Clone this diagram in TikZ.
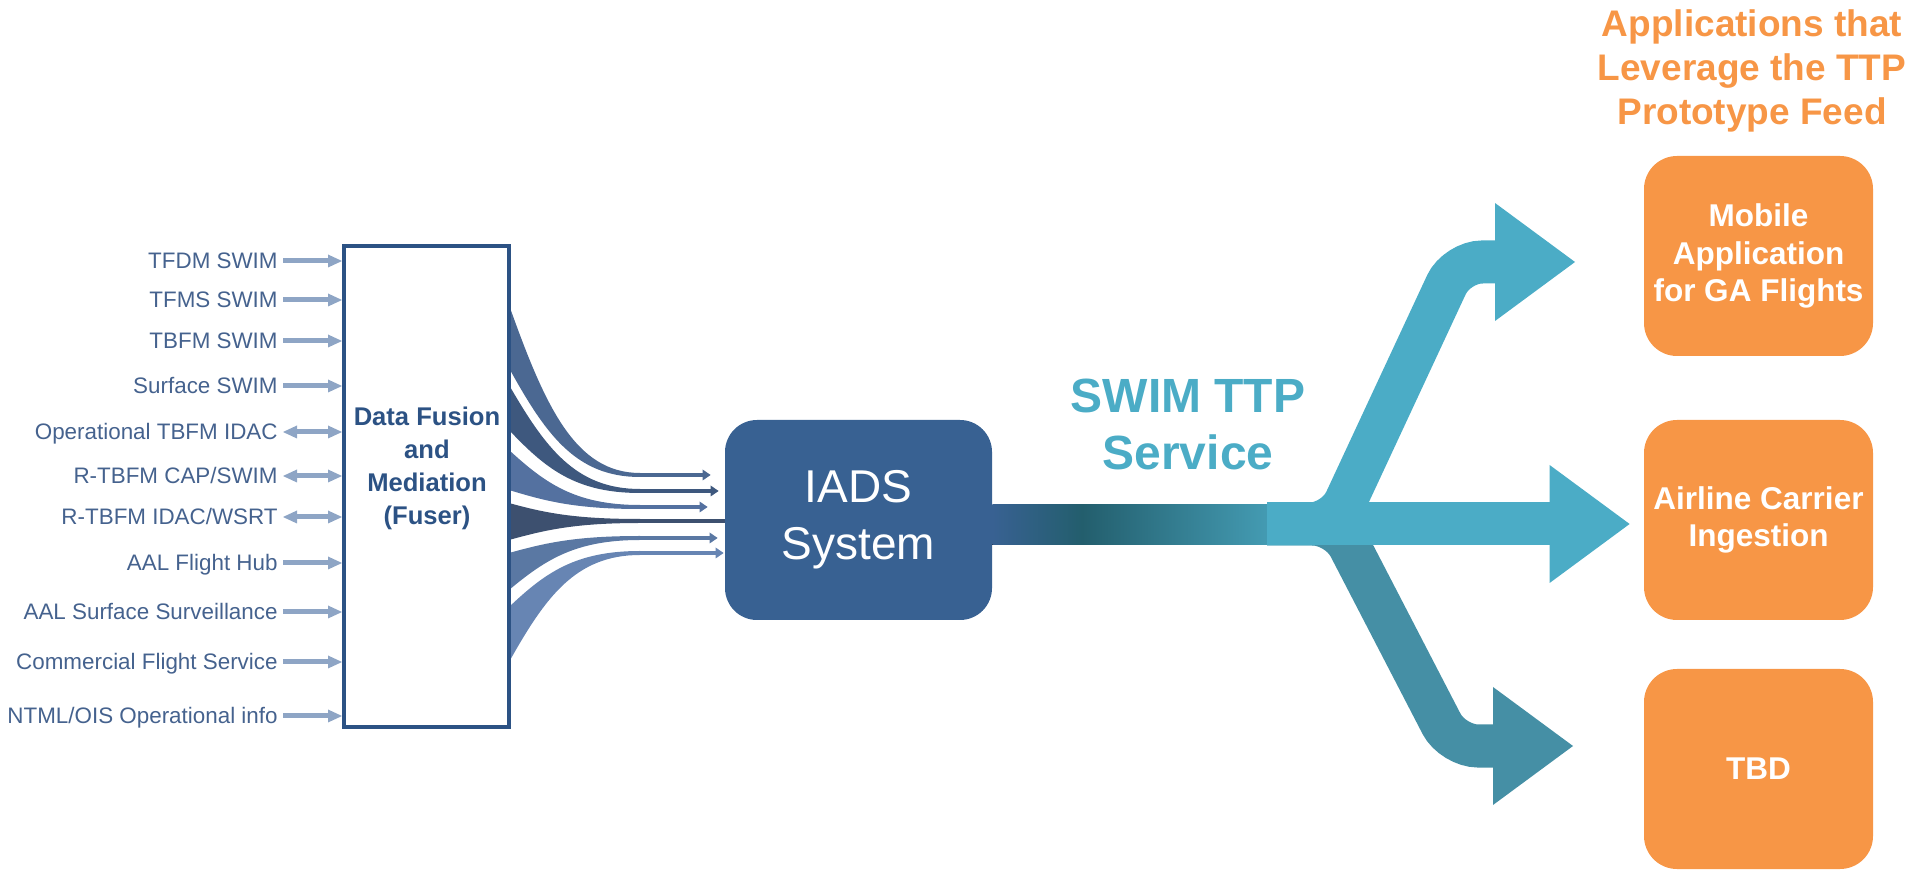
\documentclass[tikz,border=0pt]{standalone}
\usepackage{fontspec}
\setmainfont{Liberation Sans}
\usetikzlibrary{arrows.meta}

\definecolor{labelblue}{HTML}{45628E}
\definecolor{inarrowgray}{HTML}{8EA5C5}
\definecolor{fuserblue}{HTML}{2C5284}
\definecolor{iadsblue}{HTML}{386192}
\definecolor{darkteal}{HTML}{235E6D}
\definecolor{lightteal}{HTML}{4BACC6}
\definecolor{lowteal}{HTML}{458FA5}
\definecolor{apporange}{HTML}{F79646}
\definecolor{streamA}{HTML}{4B6892}
\definecolor{streamB}{HTML}{3E587E}
\definecolor{streamC}{HTML}{5471A0}
\definecolor{streamD}{HTML}{3D506F}
\definecolor{streamE}{HTML}{5A78A3}
\definecolor{streamF}{HTML}{6785B3}

\begin{document}
\begin{tikzpicture}[x=0.5pt, y=-0.5pt,
  >={Triangle[length=7pt,width=6.5pt,line width=0pt]},
  inlabel/.style={anchor=east, inner sep=2.5pt, text=labelblue, text height=8pt, text depth=0pt,
    font=\fontsize{11.2}{13.5}\selectfont},
  inarrow/.style={->, line width=2.5pt, inarrowgray},
  stream/.style={line width=1.6pt, -{Triangle[length=4pt,width=5.5pt,line width=0pt]}},
  fan/.style={line width=21.5pt, rounded corners=12.5pt, -{Triangle[length=40pt,width=59pt,line width=0pt]}},
  appbox/.style={fill=apporange, rounded corners=16.5pt, minimum width=114.5pt, minimum height=100pt,
    inner sep=2pt, text=white, align=center, font=\bfseries\fontsize{15.75}{18.75}\selectfont}]
  \useasboundingbox (0,0) rectangle (1911,870);

  % streams out of the fuser
  \fill[streamA] (509,305) .. controls (545,406) and (575,473) .. (640,473) -- (640,477) .. controls (575,477) and (545,433) .. (509,368) -- cycle;
  \fill[streamB] (509,385) .. controls (545,447) and (575,489) .. (640,489) -- (640,493) .. controls (575,493) and (545,468) .. (509,430) -- cycle;
  \fill[streamC] (509,450) .. controls (545,483) and (575,505) .. (640,505) -- (640,509) .. controls (575,509) and (545,501) .. (509,490) -- cycle;
  \fill[streamD] (509,503) .. controls (545,513) and (575,519) .. (640,519) -- (640,523) .. controls (575,523) and (545,530) .. (509,540) -- cycle;
  \fill[streamE] (509,553) .. controls (545,543) and (575,536) .. (640,536) -- (640,540) .. controls (575,540) and (545,560) .. (509,590) -- cycle;
  \fill[streamF] (509,607) .. controls (545,573) and (575,551) .. (640,551) -- (640,555) .. controls (575,555) and (545,598) .. (509,662) -- cycle;

  \node[draw=fuserblue, line width=2pt, minimum width=82.5pt, minimum height=240.5pt, inner sep=0pt] (fuser) at (426.5,486.5) {};
  \node[text=fuserblue, align=center, font=\bfseries\fontsize{12.8}{16.5}\selectfont] (fusertext) at (427,468)
    {Data Fusion\\and\\Mediation\\(Fuser)};

  \node[fill=iadsblue, rounded corners=16pt, minimum width=133.5pt, minimum height=100pt, text=white,
    align=center, font=\fontsize{23}{28.5}\selectfont] (iads) at (858.5,520) {IADS\\System};

  \draw[stream, streamA, shorten >=7pt] (638,475) -- (iads.west |- 0,475);
  \draw[stream, streamB, shorten >=3pt] (638,491) -- (iads.west |- 0,491);
  \draw[stream, streamC, shorten >=8.5pt] (638,507) -- (iads.west |- 0,507);
  \draw[line width=1.6pt, streamD] (638,521) -- (iads.west |- 0,521);
  \draw[stream, streamE, shorten >=3.5pt] (638,538) -- (iads.west |- 0,538);
  \draw[stream, streamF, shorten >=0.5pt] (638,553) -- (iads.west |- 0,553);

  % inputs
  \node[inlabel] (tfdm) at (283,261) {TFDM SWIM};
  \node[inlabel] (tfms) at (283,300) {TFMS SWIM};
  \node[inlabel] (tbfm) at (283,341) {TBFM SWIM};
  \node[inlabel] (surf) at (283,386) {Surface SWIM};
  \node[inlabel] (opidac) at (283,432) {Operational TBFM IDAC};
  \node[inlabel] (capswim) at (283,476) {R-TBFM CAP/SWIM};
  \node[inlabel] (wsrt) at (283,517) {R-TBFM IDAC/WSRT};
  \node[inlabel] (hub) at (283,563) {AAL Flight Hub};
  \node[inlabel] (aalsurf) at (283,612) {AAL Surface Surveillance};
  \node[inlabel] (cfs) at (283,662) {Commercial Flight Service};
  \node[inlabel] (ntml) at (283,716) {NTML/OIS Operational info};

  \draw[inarrow] (tfdm) -- (tfdm -| fuser.west);
  \draw[inarrow] (tfms) -- (tfms -| fuser.west);
  \draw[inarrow] (tbfm) -- (tbfm -| fuser.west);
  \draw[inarrow] (surf) -- (surf -| fuser.west);
  \draw[inarrow, <->] (opidac) -- (opidac -| fuser.west);
  \draw[inarrow, <->] (capswim) -- (capswim -| fuser.west);
  \draw[inarrow, <->] (wsrt) -- (wsrt -| fuser.west);
  \draw[inarrow] (hub) -- (hub -| fuser.west);
  \draw[inarrow] (aalsurf) -- (aalsurf -| fuser.west);
  \draw[inarrow] (cfs) -- (cfs -| fuser.west);
  \draw[inarrow] (ntml) -- (ntml -| fuser.west);

  % applications
  \node[text=apporange, align=center, font=\bfseries\fontsize{18.5}{22}\selectfont] (apptitle) at (1752,71)
    {Applications that\\Leverage the TTP\\Prototype Feed};
  \node[appbox] (mobile) at (1758.5,256) {Mobile\\Application\\for GA Flights};
  \node[appbox] (airline) at (1758.5,520) {Airline Carrier\\Ingestion};
  \node[appbox] (tbd) at (1758.5,769) {TBD};

  % SWIM feed
  \coordinate (fork) at (1267,524);
  \draw[fan, lowteal] (fork) -- ++(71,0) -- ++(115,222) -- ++(120,0);
  \fill[left color=iadsblue, right color=darkteal] (iads.east |- 0,505) rectangle (1082,545);
  \fill[left color=darkteal, right color=lightteal!90!black] (1082,505) rectangle (fork |- 0,545);
  \draw[fan, lightteal, shorten >=7pt] (fork) -- (fork -| airline.west);
  \draw[fan, lightteal] (fork) -- ++(68,0) -- ++(122,-262) -- ++(118,0);

  \node[text=lightteal, align=center, font=\bfseries\fontsize{24}{28.5}\selectfont] (swim) at (1188,424)
    {SWIM TTP\\Service};
\end{tikzpicture}
\end{document}
